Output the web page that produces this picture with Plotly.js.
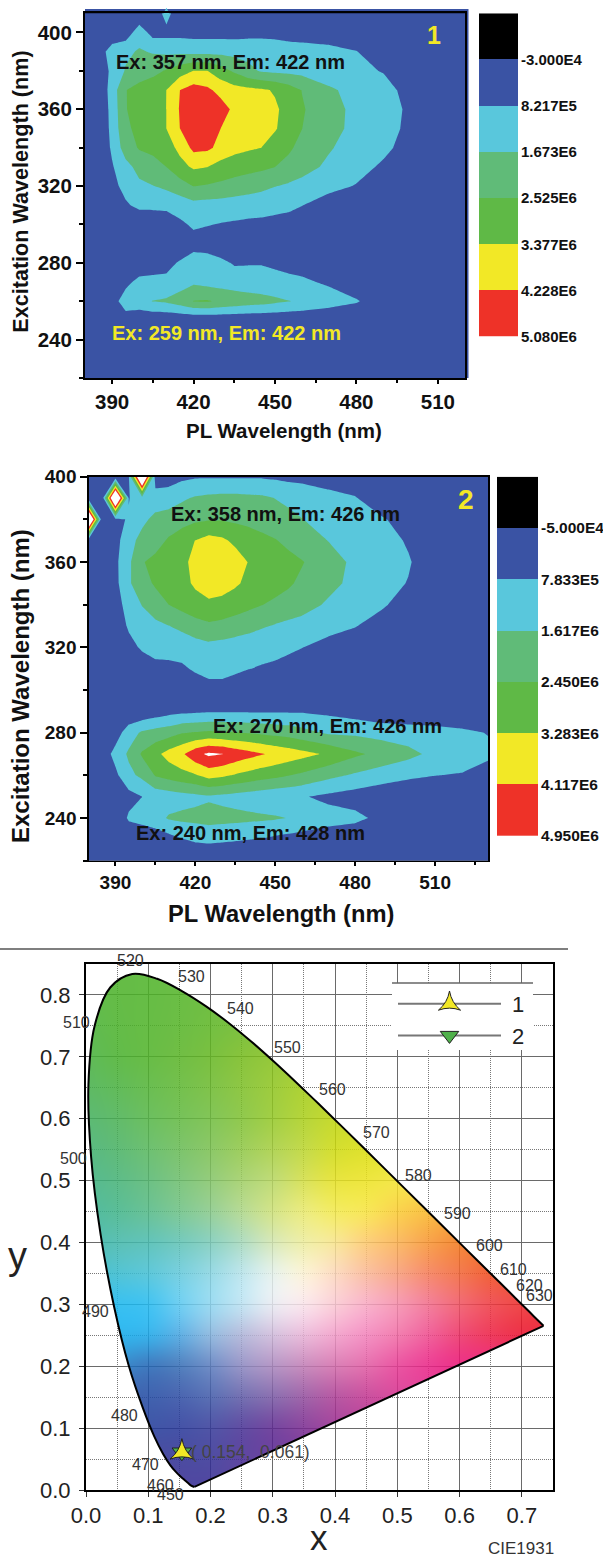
<!DOCTYPE html>
<html><head><meta charset="utf-8">
<script src="https://cdn.plot.ly/plotly-3.0.1.min.js"></script>
<style>html,body{margin:0;padding:0;background:#fff}#g{width:603px;height:1560px}</style>
</head><body><div id="g"></div>
<script>
// ---------- Panel 1 (values in units of 1E6) ----------
const em1=[380,385,390,395,400,405,410,415,420,425,430,435,440,445,450,455,460,470,480,490,500,520];
const ex1=[220,230,240,250,260,270,280,290,300,310,320,330,340,350,360,370,380,390,400,410];
const z1=[
[.1,.1,.1,.1,.1,.1,.1,.1,.1,.1,.1,.1,.1,.1,.1,.1,.1,.1,.1,.1,.1,.1],
[.1,.1,.1,.1,.1,.1,.1,.1,.1,.1,.1,.1,.1,.1,.1,.1,.1,.1,.1,.1,.1,.1],
[.1,.1,.1,.1,.1,.1,.1,.1,.1,.1,.1,.1,.1,.1,.1,.1,.1,.1,.1,.1,.1,.1],
[.1,.1,.1,.6,.1,.1,.1,.1,.1,.1,.1,.1,.1,.1,.1,.1,.1,.1,.1,.1,.1,.1],
[.1,.1,.62,1.05,1.4,1.7,1.8,2.1,2.55,2.6,2.4,2.25,2.1,2.0,1.85,1.7,1.55,1.2,.9,.3,.1,.1],
[.1,.1,.1,.7,.95,.95,1.0,1.25,1.53,1.4,1.3,1.2,1.15,1.1,1.05,1.0,.95,.7,.3,.1,.1,.1],
[.1,.1,.1,.1,.5,.6,.6,.9,1.23,1.19,1.0,.75,.77,.78,.7,.6,.5,.3,.1,.1,.1,.1],
[.1,.1,.1,.1,.1,.1,.1,.3,.5,.45,.3,.1,.1,.1,.1,.1,.1,.1,.1,.1,.1,.1],
[.1,.1,.1,.15,.41,.3,.28,.66,.95,.86,.78,.72,.66,.64,.6,.6,.3,.1,.1,.1,.1,.1],
[.1,.1,.2,.75,.95,1.0,1.05,1.2,1.4,1.35,1.3,1.25,1.2,1.15,1.05,.95,.84,.45,.2,.1,.1,.1],
[.1,.1,.65,1.0,1.5,1.65,1.85,2.15,2.55,2.45,2.35,2.2,2.05,1.9,1.7,1.55,1.4,1.05,.78,.4,.1,.1],
[.1,.1,.75,1.4,1.95,2.2,2.53,3.1,3.5,3.4,3.05,2.9,2.8,2.7,2.53,2.3,2.0,1.5,1.1,.7,.2,.1],
[.1,.1,.95,2.1,2.6,2.75,3.0,3.6,4.45,4.4,4.0,3.65,3.5,3.38,3.0,2.65,2.3,1.75,1.3,1.0,.5,.1],
[.1,.1,1.05,2.4,2.7,3.0,3.38,4.23,4.5,4.5,4.23,3.9,3.75,3.6,3.45,3.0,2.53,1.95,1.45,1.1,.65,.1],
[.1,.1,1.1,2.5,2.75,3.05,3.38,4.3,4.8,5.0,4.6,4.05,3.85,3.7,3.5,3.1,2.6,2.0,1.45,1.1,.7,.1],
[.1,.1,1.2,2.5,2.8,3.0,3.38,4.23,4.6,4.4,3.95,3.7,3.6,3.5,3.3,2.95,2.5,1.8,1.4,1.1,.54,.1],
[.1,.3,1.0,1.75,2.1,2.3,2.6,3.0,3.4,3.4,2.9,2.4,1.9,1.6,1.5,1.45,1.4,1.2,1.0,.78,.1,.1],
[.1,.3,1.3,1.5,1.76,1.6,1.5,1.5,1.45,1.45,1.45,1.4,1.4,1.3,1.3,1.25,1.2,1.1,.85,.3,.1,.1],
[.1,.1,.1,.3,1.3,.5,.55,.55,.5,.5,.5,.5,.55,.6,.55,.45,.4,.3,.2,.1,.1,.1],
[.1,.1,.1,.1,.1,.1,1.2,.1,.1,.1,.1,.1,.1,.1,.1,.1,.1,.1,.1,.1,.1,.1]
];
const levels1=[-0.03,0.8217,1.673,2.525,3.377,4.228,5.08];
const labels1=["-3.000E4","8.217E5","1.673E6","2.525E6","3.377E6","4.228E6","5.080E6"];
const spikeEm=[410], spikeEx=[410];
// ---------- Panel 2 ----------
const em2=[380,385,390,395,400,405,410,415,420,425,430,435,440,445,450,455,460,470,480,490,500,510,520,530];
const ex2=[220,230,240,250,260,270,280,290,300,310,320,330,340,350,360,370,380,390,400];
const z2=[
[.1,.1,.1,.1,.1,.1,.1,.1,.1,.1,.1,.1,.1,.1,.1,.1,.1,.1,.1,.1,.1,.1,.1,.1],
[.1,.1,.1,.1,.1,.25,.45,.75,.9,.95,.9,.85,.8,.75,.6,.5,.45,.3,.1,.1,.1,.1,.1,.1],
[.1,.1,.1,.9,1.1,1.3,1.7,1.8,1.85,1.95,1.9,1.85,1.8,1.75,1.7,1.6,1.35,1.1,1.0,.55,.1,.1,.1,.1],
[.1,.1,.1,.5,.78,1.1,1.2,1.3,1.4,1.5,1.4,1.3,1.2,1.1,1.0,.95,.85,.6,.4,.2,.1,.1,.1,.1],
[.1,.1,.6,1.4,1.8,2.5,2.75,3.0,3.2,3.6,3.45,3.2,3.0,2.8,2.65,2.47,2.3,1.85,1.5,1.2,.95,.8,.72,.4],
[.1,.3,1.05,1.75,2.55,3.05,3.6,4.0,4.7,5.1,4.97,4.65,4.4,4.17,3.95,3.75,3.55,3.15,2.6,2.2,1.85,1.4,1.25,.95],
[.1,.1,.4,1.2,1.75,1.95,2.1,2.4,2.5,2.6,2.55,2.48,2.4,2.3,2.2,2.1,1.9,1.5,1.45,1.3,1.2,1.1,.95,.75],
[.1,.1,.1,.1,.1,.3,.5,.6,.65,.7,.7,.7,.7,.7,.7,.7,.7,.6,.4,.15,.1,.1,.1,.1],
[.1,.1,.1,.1,.1,.1,.1,.1,.3,.5,.5,.3,.1,.1,.1,.1,.1,.1,.1,.1,.1,.1,.1,.1],
[.1,.1,.1,.1,.3,.65,.6,.65,.9,1.05,1.05,.95,.8,.72,.65,.55,.4,.2,.1,.1,.1,.1,.1,.1],
[.1,.1,.1,.5,.9,.95,1.05,1.15,1.25,1.37,1.3,1.2,1.1,1.05,1.0,.9,.8,.5,.3,.1,.1,.1,.1,.1],
[.1,.1,.2,.9,1.2,1.4,1.6,1.8,2.1,2.3,2.2,2.05,1.9,1.7,1.55,1.4,1.3,1.05,.82,.4,.1,.1,.1,.1],
[.1,.1,.5,1.05,1.65,2.1,2.45,2.75,3.0,3.1,3.05,2.85,2.65,2.47,2.3,2.15,1.95,1.5,1.15,.9,.4,.1,.1,.1],
[.1,.1,.55,1.5,2.15,2.55,2.8,3.05,3.4,3.75,3.6,3.4,3.1,2.9,2.75,2.55,2.3,1.85,1.4,1.05,.75,.25,.1,.1],
[.1,.1,.6,1.45,2.4,2.65,2.9,3.1,3.5,3.9,3.95,3.7,3.25,3.0,2.85,2.7,2.5,1.95,1.45,1.15,.85,.3,.1,.1],
[.1,.1,.5,1.3,1.9,2.15,2.55,2.95,3.3,3.6,3.45,3.1,2.9,2.7,2.5,2.25,2.0,1.6,1.35,1.1,.7,.1,.1,.1],
[7.7,.1,.6,.85,1.4,1.85,2.0,2.1,2.3,2.38,2.4,2.3,2.2,2.05,1.95,1.75,1.63,1.4,1.1,.9,.3,.1,.1,.1],
[.1,.1,7.7,.75,1.2,1.15,1.2,1.5,1.7,1.8,1.85,1.85,1.8,1.75,1.6,1.5,1.4,1.1,.85,.1,.1,.1,.1,.1],
[.1,.1,.1,.7,7.7,.35,.4,.6,.7,.7,.7,.7,.7,.7,.65,.55,.5,.3,.1,.1,.1,.1,.1,.1]
];
const levels2=[-0.05,0.7833,1.617,2.45,3.283,4.117,4.95];
const labels2=["-5.000E4","7.833E5","1.617E6","2.450E6","3.283E6","4.117E6","4.950E6"];
const bandColors=["#000000","#3A53A4","#59C7DC","#60BB78","#5FB946","#F2E826","#EE3228","#FFFFFF"];
// ---------- CIE 1931 ----------
const locusX=[.1741,.1689,.1644,.1566,.1510,.1440,.1355,.1241,.1096,.0913,.0687,.0454,.0235,.0082,.0039,.0139,.0389,.0743,.1142,.1547,.1929,.2296,.2658,.3016,.3373,.3731,.4087,.4441,.4788,.5125,.5448,.5752,.6029,.6270,.6482,.6658,.6915,.7079,.7190,.7347];
const locusY=[.0050,.0069,.0109,.0177,.0227,.0297,.0399,.0578,.0868,.1327,.2007,.2950,.4127,.5384,.6548,.7502,.8120,.8338,.8262,.8059,.7816,.7543,.7243,.6923,.6589,.6245,.5896,.5547,.5202,.4866,.4544,.4242,.3965,.3725,.3514,.3340,.3083,.2920,.2809,.2653];
const cieX=[0,.05,.1,.15,.2,.25,.3,.35,.4,.45,.5,.55,.6,.65,.7,.75];
const cieY=[.85,.8,.75,.7,.65,.6,.55,.5,.45,.4,.35,.3,.25,.2,.15,.1,.05,0];
const cieColors=[
"63BB4A 64BC46 66BD45 6ABE44 6FBE42 75BF42 7BC040 7BC040 7BC040 7BC040 7BC040 7BC040 7BC040 7BC040 7BC040 7BC040",
"62BB4C 64BC46 66BD45 6ABE44 6FBE42 75BF42 7BC040 80C13E 80C13E 80C13E 80C13E 80C13E 80C13E 80C13E 80C13E 80C13E",
"60BB50 63BC48 67BD45 6CBE44 73BF42 7CC040 85C23E 8CC43C 8CC43C 8CC43C 8CC43C 8CC43C 8CC43C 8CC43C 8CC43C 8CC43C",
"5FBA58 62BB4A 68BD46 70BE44 7AC040 88C43C 94C83A 9ECB38 9ECB38 9ECB38 9ECB38 9ECB38 9ECB38 9ECB38 9ECB38 9ECB38",
"5EBA64 62BB5A 6ABE52 74C04E 80C34A 8EC744 9ECC3E AED234 B8D530 B8D530 B8D530 B8D530 B8D530 B8D530 B8D530 B8D530",
"5CB974 62BB6A 6CBF60 76C25A 82C558 90C94E A2CF44 B6D53A C6DA2E CCDC2C CCDC2C CCDC2C CCDC2C CCDC2C CCDC2C CCDC2C",
"59B982 60BB78 6EC072 7CC46C 8CC868 9ECE5E B2D458 C4DA4A D4DE30 DEE12C E0E22C E0E22C E0E22C E0E22C E0E22C E0E22C",
"56BA90 5DBC88 6CC084 80C680 94CC7C ACD478 C0DC78 D8E25C E8E440 EEE63E F4E84A F8E44E F8E44E F8E44E F8E44E F8E44E",
"52BBA0 5ABE98 6AC296 80C994 98D098 B8DB96 D4E488 ECEC80 F4EC62 F8E858 FBD24E F9C044 F8B040 F8B040 F8B040 F8B040",
"4DBDB3 5CC0B4 62C4BA 74CABE 8CD1C2 B0DDC4 D8E9BA EFEFA8 F8E89A FDCF7E FBBB68 F8A24C F58A38 F47B30 F47B30 F47B30",
"44BFD0 52C4D4 5EC8DA 78D0E0 98DAE6 BFE6EE E8F3EE FCF4D8 FCDCC4 FAC0A4 F8A888 F68C6C F37A50 F16238 F05A30 F05A30",
"30BFEC 38C0F0 40C3F2 6FD0F3 9CDCF2 C4E6F4 ECEEF4 FBE8EE FBD0D8 F9B4CC F69CB8 F3809C F26A78 F0555C EF4848 EE3C42",
"2BB8EE 30B6EE 38B4EC 5FB0E4 94BCE0 B8BCDC D5C2DE EBBCDB F3A8CF F492C4 F27FB0 F0629C EF4A78 EF3C5C ED3048 EC2E44",
"3A8FCB 3A8CCB 3F78BE 5080BE 6F8DC6 9A97C8 B596C5 C98DBE D980B6 E470AE EA55A2 EC3F95 EC3088 EC3088 EC3088 EC3088",
"3E62AE 3F62AE 3F62AE 4A64B0 5A70B4 7470B2 8A6FB0 A065AA B758A3 C9509F D84A9C DE449A DE449A DE449A DE449A DE449A",
"3F56A6 3F56A6 3F56A6 4452A6 5055A6 604CA2 74459F 8B459E A3459D B4449D B4449D B4449D B4449D B4449D B4449D B4449D",
"4B4BA0 4B4BA0 4B4BA0 4B4BA0 4F4CA2 5E46A0 6C42A0 7A40A0 7A40A0 7A40A0 7A40A0 7A40A0 7A40A0 7A40A0 7A40A0 7A40A0",
"5046A0 5046A0 5046A0 5046A0 5046A0 5E46A0 6C42A0 7A40A0 7A40A0 7A40A0 7A40A0 7A40A0 7A40A0 7A40A0 7A40A0 7A40A0"
];
const waveLabels=["450","460","470","480","490","500","510","520","530","540","550","560","570","580","590","600","610","620","630"];
const sampleX=[0.154], sampleY=[0.061];

// ---------- helpers ----------
const W=603,H=1560, SANS="Liberation Sans";
const dx=(a,b)=>[a/W,b/W], dy=(t,b)=>[1-b/H,1-t/H];
function ann(text,px,py,size,color,opt){opt=opt||{};return Object.assign({text:text,x:px/W,y:1-py/H,xref:'paper',yref:'paper',
  xanchor:'center',yanchor:'middle',showarrow:false,font:{family:SANS,size:size,color:color,weight:opt.bold?700:400}},opt.extra||{});}
function contourTrace(x,y,z,lv,xa,ya){
  const size=(lv[6]-lv[0])/6;
  return {type:'contour',x:x,y:y,z:z,xaxis:xa,yaxis:ya,autocontour:false,showscale:false,hoverinfo:'skip',showlegend:false,
    contours:{coloring:'fill',showlines:false,start:lv[0],end:lv[6],size:size},line:{width:0,smoothing:0},
    colorscale:bandColors.map((c,i)=>[i/7,c]),zmin:lv[0]-size/2,zmax:lv[6]+size/2};
}
function barTrace(lv,xa,ya){
  const size=(lv[6]-lv[0])/6, edges=[lv[0]-size].concat(lv);
  return {type:'heatmap',x:[0,1],y:edges,z:[0,1,2,3,4,5,6].map(v=>[v]),xaxis:xa,yaxis:ya,showscale:false,hoverinfo:'skip',
    zmin:0,zmax:6,colorscale:bandColors.slice(0,7).map((c,i)=>[i/6,c])};
}
function barAxes(lv,labels,fs){
  const size=(lv[6]-lv[0])/6;
  return {
   x:{range:[0,1],showticklabels:false,showgrid:false,zeroline:false,ticks:'',showline:false},
   y:{range:[lv[6],lv[0]-size],side:'right',tickvals:lv,ticktext:labels,ticks:'',showgrid:false,zeroline:false,showline:false,
      ticklabelstandoff:2,tickfont:{family:SANS,size:fs,color:'#111',weight:700}}
  };
}
function specAxes(xr,yr,xt,xm,yt,ym,fs,lw){
  const base={showline:true,mirror:true,linecolor:'#000',linewidth:lw,showgrid:false,zeroline:false,ticks:'outside',tickwidth:2,tickcolor:'#000',
    tickfont:{family:SANS,size:fs,color:'#111',weight:700}};
  return {x:Object.assign({},base,{range:xr,ticklen:4,tickvals:xt,ticktext:xt.map(String),minor:{tickvals:xm,ticks:'outside',ticklen:3,tickwidth:2,tickcolor:'#000'}}),
          y:Object.assign({},base,{range:yr,ticklen:7,tickvals:yt,ticktext:yt.map(String),minor:{tickvals:ym,ticks:'outside',ticklen:4,tickwidth:2,tickcolor:'#000'}})};
}

// ---------- CIE image from the colour table, clipped to the locus ----------
function cieImage(){
  const cw=936,ch=1052,alpha=0.86;
  const rows=cieColors.map(r=>r.split(' '));
  const nx=cieX.length,ny=cieY.length;
  const s=document.createElement('canvas');s.width=nx;s.height=ny;
  const sc=s.getContext('2d'),id=sc.createImageData(nx,ny);
  rows.forEach((r,j)=>r.forEach((h,i)=>{
    const v=[0,2,4].map(k=>parseInt(h.substr(k,2),16));
    v.forEach((c,k)=>{id.data[(j*nx+i)*4+k]=Math.max(0,(c-255*(1-alpha))/alpha);});
    id.data[(j*nx+i)*4+3]=255;
  }));
  sc.putImageData(id,0,0);
  const b=document.createElement('canvas');b.width=cw;b.height=ch;
  const c=b.getContext('2d');
  c.translate(0,ch);c.scale(1,-1); // the image trace shows the canvas bottom-up here
  const P=locusX.map((x,i)=>[x/.75*cw,(1-locusY[i]/.85)*ch]), n=P.length;
  c.beginPath();c.moveTo(P[0][0],P[0][1]);
  for(let i=0;i<n-1;i++){
    const p0=P[Math.max(i-1,0)],p1=P[i],p2=P[i+1],p3=P[Math.min(i+2,n-1)];
    c.bezierCurveTo(p1[0]+(p2[0]-p0[0])/6,p1[1]+(p2[1]-p0[1])/6,p2[0]-(p3[0]-p1[0])/6,p2[1]-(p3[1]-p1[1])/6,p2[0],p2[1]);
  }
  c.closePath();c.clip();
  c.imageSmoothingEnabled=true;c.imageSmoothingQuality='high';c.globalAlpha=alpha;
  const cx=cw/(nx-1),cy=ch/(ny-1);
  c.drawImage(s,-cx/2,-cy/2,cx*nx,cy*ny);
  return {url:b.toDataURL('image/png'),cw:cw,ch:ch};
}
const img=cieImage();
const nL=locusX.length;

// ---------- traces ----------
const traces=[
 contourTrace(em1,ex1,z1,levels1,'x','y'),
 {type:'scatter',mode:'markers',x:spikeEm,y:spikeEx,xaxis:'x',yaxis:'y',cliponaxis:false,showlegend:false,hoverinfo:'skip',
   marker:{symbol:'diamond-tall',size:8,color:bandColors[2],line:{width:0}}},
 barTrace(levels1,'x2','y2'),
 contourTrace(em2,ex2,z2,levels2,'x3','y3'),
 barTrace(levels2,'x4','y4'),
 {type:'image',source:img.url,x0:.75/img.cw/2,dx:.75/img.cw,y0:.85-.85/img.ch/2,dy:-.85/img.ch,xaxis:'x5',yaxis:'y5',hoverinfo:'skip'},
 {type:'scatter',mode:'lines',x:locusX,y:locusY,xaxis:'x5',yaxis:'y5',line:{color:'#000',width:2,shape:'spline',smoothing:1},showlegend:false,hoverinfo:'skip'},
 {type:'scatter',mode:'lines',x:[locusX[nL-1],locusX[0]],y:[locusY[nL-1],locusY[0]],xaxis:'x5',yaxis:'y5',line:{color:'#000',width:2},showlegend:false,hoverinfo:'skip'},
 {type:'scatter',mode:'lines+markers',name:'\u00a02',legendrank:2,x:sampleX,y:sampleY,xaxis:'x5',yaxis:'y5',line:{color:'#777',width:2},
   marker:{symbol:'triangle-down',size:17,color:'#4FB04A',line:{color:'#222',width:1}}},
 {type:'scatter',mode:'lines+markers',name:'\u00a01',legendrank:1,x:sampleX,y:sampleY,xaxis:'x5',yaxis:'y5',line:{color:'#777',width:2},
   marker:{symbol:'star-triangle-up',size:17,color:'#F2E826',line:{color:'#222',width:1}}}
];

// ---------- layout ----------
const a1=specAxes([380,520],[220,410],[390,420,450,480,510],[405,435,465,495],[240,280,320,360,400],[220,260,300,340,380],20.5,2);
const a2=specAxes([380,530],[220,400],[390,420,450,480,510],[405,435,465,495,525],[240,280,320,360,400],[220,260,300,340,380],19,1.5);
const b1=barAxes(levels1,labels1,15), b2=barAxes(levels2,labels2,15.5);
const cieTick={family:SANS,size:22,color:'#222'};
const grid={showgrid:true,gridcolor:'#6a6a6a',gridwidth:1,showline:true,mirror:true,linecolor:'#000',linewidth:2,zeroline:false,ticks:'outside',ticklen:5,tickwidth:1,tickcolor:'#333',tickfont:cieTick,dtick:.1,tick0:0,tickformat:'.1f'};
const gridMinor={dtick:.05,tick0:0,showgrid:true,gridcolor:'#777',griddash:'1px,1px',gridwidth:1,ticks:''};
const layout={width:W,height:H,margin:{l:0,r:0,t:0,b:0},paper_bgcolor:'#fff',plot_bgcolor:'#fff',showlegend:true,
 legend:{x:393/W,y:1-983/H,xanchor:'left',yanchor:'top',bgcolor:'rgba(0,0,0,0)',itemwidth:103,font:{family:SANS,size:22,color:'#222'},itemclick:false,itemdoubleclick:false,tracegroupgap:0},
 xaxis:Object.assign(a1.x,{domain:dx(85,465),anchor:'y'}),yaxis:Object.assign(a1.y,{domain:dy(13.3,378),anchor:'x'}),
 xaxis2:Object.assign(b1.x,{domain:dx(479,518),anchor:'y2'}),yaxis2:Object.assign(b1.y,{domain:dy(13.3,336.7),anchor:'x2'}),
 xaxis3:Object.assign(a2.x,{domain:dx(88.8,488.4),anchor:'y3'}),yaxis3:Object.assign(a2.y,{domain:dy(476.7,860.7),anchor:'x3'}),
 xaxis4:Object.assign(b2.x,{domain:dx(497,538),anchor:'y4'}),yaxis4:Object.assign(b2.y,{domain:dy(476.7,836),anchor:'x4'}),
 xaxis5:Object.assign({},grid,{range:[0,.75],domain:dx(86,553),anchor:'y5',minor:gridMinor}),
 yaxis5:Object.assign({},grid,{range:[0,.85],domain:dy(964,1490),anchor:'x5',minor:gridMinor,scaleanchor:false,ticklabelstandoff:4}),
 shapes:[
  {type:'rect',xref:'paper',yref:'paper',x0:85/W,x1:468.5/W,y0:1-378/H,y1:1-9/H,fillcolor:'#3A53A4',line:{width:0},layer:'below'},
  {type:'line',xref:'paper',yref:'paper',x0:0,x1:568/W,y0:1-949/H,y1:1-949/H,line:{color:'#555',width:1.5}},
  {type:'rect',xref:'paper',yref:'paper',x0:392/W,x1:533/W,y0:1-1050/H,y1:1-983/H,fillcolor:'#fff',line:{width:0},layer:'above'},
  {type:'line',xref:'paper',yref:'paper',x0:392/W,x1:533/W,y0:1-983/H,y1:1-983/H,line:{color:'#666',width:1.5},layer:'above'}
 ],
 annotations:[
  ann('Ex: 357 nm, Em: 422 nm',230,61.7,20,'#111',{bold:true}),
  ann('Ex: 259 nm, Em: 422 nm',226.8,333,20,'#F2E826',{bold:true}),
  ann('1',433.6,35,25,'#F2E826',{bold:true}),
  ann('PL Wavelength (nm)',284,430,20.5,'#111',{bold:true}),
  ann('Excitation Wavelength (nm)',21,191.7,21.6,'#111',{bold:true,extra:{textangle:-90}}),
  ann('Ex: 358 nm, Em: 426 nm',285,514.3,20,'#111',{bold:true}),
  ann('Ex: 270 nm, Em: 426 nm',327,726,20,'#111',{bold:true}),
  ann('Ex: 240 nm, Em: 428 nm',250,832.7,20,'#111',{bold:true}),
  ann('2',466.4,500,28,'#F2E826',{bold:true}),
  ann('PL Wavelength (nm)',280.7,914,23.7,'#111',{bold:true}),
  ann('Excitation Wavelength (nm)',20,686,24,'#111',{bold:true,extra:{textangle:-90}}),
  ann('( 0.154,  0.061)',250,1452.3,17.5,'#444'),
  ann('x',319,1537,35,'#222'),
  ann('y',17,1256,38,'#222'),
  ann('CIE1931',521,1548,17,'#333')
 ]
};
const wavePos=[[170,1494],[160.6,1485.7],[145,1464],[124,1415],[95.8,1311.7],[73.4,1158],[76.4,1022],[130,960.7],[191.5,976],[240.5,1008],[287,1047],[332,1089],[376,1132.7],[418.5,1175],[457.5,1213],[489.6,1245],[513.5,1269],[529.7,1285],[539.4,1295]];
waveLabels.forEach((t,i)=>layout.annotations.push(ann(t,wavePos[i][0],wavePos[i][1],16,'#333')));

Plotly.newPlot('g',traces,layout,{displayModeBar:false,staticPlot:true});
</script></body></html>
